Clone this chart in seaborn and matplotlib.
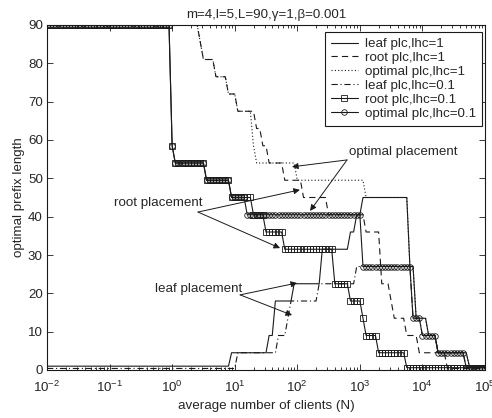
import numpy as np
import matplotlib
matplotlib.use("Agg")
import matplotlib.pyplot as plt
import seaborn as sns

# sample grid of the average number of clients N (20 samples per decade)
N_grid = 10 ** np.arange(-2, 5.0001, 0.05)

# Each series: prefix-length plateaus (levels) and the N where each plateau ends (edges)
leaf1_levels = [1, 4.5, 9, 18, 22.5, 31.5, 36, 40.5, 45, 27, 13.5, 9, 4.5, 1]
leaf1_edges = [8.4, 33.4, 40.9, 83.9, 239, 671, 884, 1024, 5990, 7890, 11830, 17740, 53500]

root1_levels = [90, 85.5, 81, 76.5, 72, 67.5, 63, 58.5, 54, 49.5, 45, 40.5, 36, 22.5, 18, 13.5, 9, 4.5, 0.4]
root1_edges = [2.74, 3.11, 4.58, 7.13, 10.1, 20.0, 25.8, 32.2, 58.0, 119, 282, 1165, 2060, 3090, 3515, 5570, 8040, 24270]

opt1_levels = [90, 85.5, 81, 76.5, 72, 67.5, 58.5, 54, 49.5, 45, 27, 13.5, 9, 4.5, 1]
opt1_edges = [2.74, 3.11, 4.58, 7.13, 10.1, 18.9, 22.3, 92, 1208, 5990, 7890, 11830, 17740, 53500]

leaf01_levels = [0.4, 4.5, 9, 13.5, 18, 22.5, 27, 13.5, 9, 4.5, 0.6]
leaf01_edges = [10.9, 50.1, 68.5, 77.9, 218, 806, 6310, 9480, 15900, 46100]

root01_levels = [90, 58.5, 54, 49.5, 45, 40.5, 36, 31.5, 22.5, 18, 13.5, 9, 4.5, 0.6]
root01_edges = [0.94, 1.11, 3.35, 8.9, 19.6, 28.3, 59.2, 372, 671, 1042, 1254, 1950, 5470]

opt01_levels = [90, 58.5, 54, 49.5, 45, 40.5, 27, 13.5, 9, 4.5, 0.6]
opt01_edges = [0.94, 1.11, 3.35, 8.9, 15.7, 1005, 6310, 9480, 15900, 46100]

series_names = ["leaf plc,lhc=1", "root plc,lhc=1", "optimal plc,lhc=1",
                "leaf plc,lhc=0.1", "root plc,lhc=0.1", "optimal plc,lhc=0.1"]

title_text = "m=4,l=5,L=90,\u03b3=1,\u03b2=0.001"
x_label = "average number of clients (N)"
y_label = "optimal prefix length"
y_ticks = [0, 10, 20, 30, 40, 50, 60, 70, 80, 90]


def sample(levels, edges):
    idx = np.searchsorted(np.asarray(edges, float), N_grid, side="right")
    return np.asarray(levels, float)[idx]


sns.set_theme(style="ticks")
plt.rcParams["font.family"] = ["Liberation Sans", "DejaVu Sans"]
plt.rcParams["mathtext.default"] = "regular"
plt.rcParams["lines.scale_dashes"] = False
FS = 9.6

fig = plt.figure(figsize=(4.92, 4.18), dpi=100)
ax = fig.add_axes([47 / 492, 48 / 418, 438 / 492, 345 / 418])

styles = [
    dict(linestyle="-"),
    dict(linestyle=(0, (4.5, 3.0))),
    dict(linestyle=(0, (0.8, 1.6))),
    dict(linestyle=(0, (4.5, 2.0, 0.8, 2.0))),
    dict(linestyle="-", marker="s", markersize=3.8, mfc="none", mec="k", mew=0.6),
    dict(linestyle="-", marker="o", markersize=4.0, mfc="none", mec="k", mew=0.6),
]
data = [(leaf1_levels, leaf1_edges), (root1_levels, root1_edges), (opt1_levels, opt1_edges),
        (leaf01_levels, leaf01_edges), (root01_levels, root01_edges), (opt01_levels, opt01_edges)]

for name, (lv, ed), st in zip(series_names, data, styles):
    sns.lineplot(x=N_grid, y=sample(lv, ed), ax=ax, color="k", lw=0.8,
                 estimator=None, sort=False, label=name, **st)

ax.set_xscale("log")
ax.set_xlim(1e-2, 1e5)
ax.set_ylim(0, 90)
ax.set_yticks(y_ticks)
ax.tick_params(which="both", direction="in", top=True, right=True, labelsize=FS,
               color="k", width=0.6)
ax.tick_params(which="major", length=4)
ax.tick_params(axis="y", which="major", pad=3)
ax.tick_params(axis="x", which="major", pad=7)
ax.tick_params(which="minor", length=2)
for sp in ax.spines.values():
    sp.set_color("k")
    sp.set_linewidth(0.8)

ax.set_xlabel(x_label, fontsize=FS, labelpad=4)
ax.set_ylabel(y_label, fontsize=FS, labelpad=2)
ax.set_title(title_text, fontsize=FS, pad=5)

leg = ax.legend(loc="upper right", bbox_to_anchor=(0.9932, 0.98), fontsize=FS,
                frameon=True, fancybox=False, edgecolor="k", framealpha=1,
                handlelength=2.0, numpoints=1, borderaxespad=0.0, labelspacing=0.12,
                borderpad=0.45, handletextpad=0.55)
leg.get_frame().set_linewidth(0.8)

arrow = dict(arrowstyle="-|>", color="k", lw=0.7, mutation_scale=9, shrinkA=0, shrinkB=0)

ax.text(671, 56.9, "optimal placement", fontsize=FS, ha="left", va="center")
for head in [(82.4, 53.0), (160, 41.5)]:
    ax.annotate("", xy=head, xytext=(624, 54.8), arrowprops=arrow)

ax.text(3.11, 43.6, "root placement", fontsize=FS, ha="right", va="center")
for head in [(110, 47.0), (53, 31.8)]:
    ax.annotate("", xy=head, xytext=(2.59, 41.2), arrowprops=arrow)

ax.text(13.1, 21.1, "leaf placement", fontsize=FS, ha="right", va="center")
for head in [(99, 22.7), (82.4, 14.3)]:
    ax.annotate("", xy=head, xytext=(12.2, 19.6), arrowprops=arrow)

fig.savefig("out.png", dpi=100)
